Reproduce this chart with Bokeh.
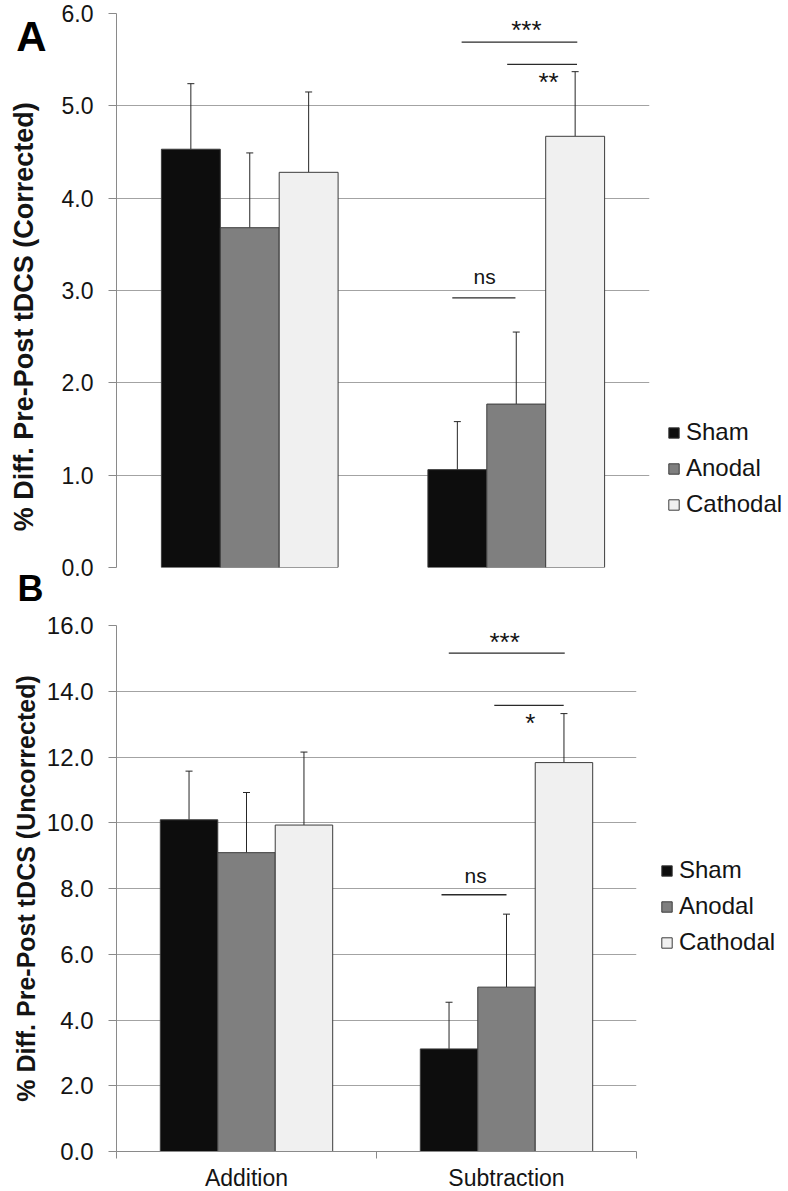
from bokeh.plotting import figure
from bokeh.models import (FixedTicker, Legend, LegendItem, Whisker, LinearAxis,
                          ColumnDataSource, TeeHead, Range1d, Title)
from bokeh.layouts import column
from bokeh.embed import file_html
from bokeh.resources import INLINE
from bokeh.core.properties import value

# ---------------- data ----------------
categories = ["Addition", "Subtraction"]
series = ["Sham", "Anodal", "Cathodal"]
colors = ["#0d0d0d", "#7f7f7f", "#f0f0f0"]

# Panel A (corrected)
a_sham = [4.53, 1.06]
a_anodal = [3.68, 1.77]
a_cathodal = [4.28, 4.67]
a_sham_err = [0.71, 0.52]
a_anodal_err = [0.81, 0.78]
a_cathodal_err = [0.87, 0.70]
a_ticks = [0, 1, 2, 3, 4, 5, 6]
a_tick_labels = ["0.0", "1.0", "2.0", "3.0", "4.0", "5.0", "6.0"]
a_sig_x0 = [1.295, 1.466, 1.26]
a_sig_x1 = [1.729, 1.728, 1.497]
a_sig_y = [5.69, 5.45, 2.92]
a_sig_text = ["***", "**", "ns"]
a_sig_tx = [1.538, 1.621, 1.381]
a_sig_ty = [5.87, 5.30, 3.14]

# Panel B (uncorrected)
b_sham = [10.09, 3.12]
b_anodal = [9.09, 5.00]
b_cathodal = [9.93, 11.83]
b_sham_err = [1.48, 1.42]
b_anodal_err = [1.83, 2.22]
b_cathodal_err = [2.22, 1.49]
b_ticks = [0, 2, 4, 6, 8, 10, 12, 14, 16]
b_tick_labels = ["0.0", "2.0", "4.0", "6.0", "8.0", "10.0", "12.0", "14.0", "16.0"]
b_sig_x0 = [1.278, 1.453, 1.25]
b_sig_x1 = [1.724, 1.72, 1.50]
b_sig_y = [15.16, 13.57, 7.81]
b_sig_text = ["***", "*", "ns"]
b_sig_tx = [1.493, 1.592, 1.381]
b_sig_ty = [15.62, 13.17, 8.37]

FONT = "Liberation Sans"
TXT = "#141414"
GRID = "#a3a3a3"
AXIS = "#8a8a8a"
BARW = 0.221
NBSP = "\u00a0"


def make_panel(vals, errs, ymax, ticks, tick_labels, sig,
               frame_w, frame_h, bl, br, bt, bb, tick_fs, legend_loc, show_x):
    p = figure(output_backend="svg", toolbar_location=None,
               frame_width=frame_w, frame_height=frame_h,
               min_border_left=bl, min_border_right=br,
               min_border_top=bt, min_border_bottom=bb,
               x_range=Range1d(0, 2), y_range=Range1d(0, ymax))
    p.outline_line_color = None
    p.background_fill_color = "white"
    p.border_fill_color = "white"
    p.xgrid.grid_line_color = None
    p.ygrid.grid_line_color = GRID
    p.ygrid.grid_line_width = 1
    p.ygrid.ticker = FixedTicker(ticks=ticks)

    yax = p.yaxis[0]
    yax.ticker = FixedTicker(ticks=ticks)
    yax.major_label_overrides = {t: l for t, l in zip(ticks, tick_labels)}
    yax.major_tick_in = 0
    yax.major_tick_out = 8
    yax.major_tick_line_color = AXIS
    yax.minor_tick_line_color = None
    yax.axis_line_color = AXIS
    yax.major_label_text_font = FONT
    yax.major_label_text_font_size = tick_fs
    yax.major_label_text_color = TXT
    yax.major_label_standoff = 15

    xax = p.xaxis[0]
    if show_x:
        xax.ticker = FixedTicker(ticks=[0.5, 1.5], minor_ticks=[0, 1, 2])
        xax.major_label_overrides = {0.5: categories[0], 1.5: categories[1]}
        xax.major_tick_in = 0
        xax.major_tick_out = 0
        xax.minor_tick_in = 0
        xax.minor_tick_out = 7
        xax.minor_tick_line_color = AXIS
        xax.axis_line_color = AXIS
        xax.major_label_text_font = FONT
        xax.major_label_text_font_size = "23px"
        xax.major_label_text_color = TXT
        xax.major_label_standoff = 6
    else:
        xax.visible = False

    items = []
    for i, (name, col) in enumerate(zip(series, colors)):
        xs = [g + 0.5 + (i - 1) * BARW for g in range(len(categories))]
        tops = vals[i]
        his = [t + e for t, e in zip(tops, errs[i])]
        src = ColumnDataSource(dict(x=xs, top=tops, hi=his))
        r = p.vbar(x="x", top="top", bottom=0, width=BARW, source=src,
                   fill_color=col, line_color="#3c3c3c", line_width=1)
        w = Whisker(source=src, base="x", lower="top", upper="hi",
                    dimension="height", line_color="#262626", line_width=1,
                    lower_head=None,
                    upper_head=TeeHead(size=7, line_color="#262626", line_width=1))
        p.add_layout(w)
        items.append(LegendItem(label=name, renderers=[r]))

    x0, x1, ys, texts, tx, ty = sig
    p.segment(x0=x0, x1=x1, y0=ys, y1=ys, line_color="#2a2a2a", line_width=1.3)
    stars = [k for k, t in enumerate(texts) if "*" in t]
    others = [k for k, t in enumerate(texts) if "*" not in t]
    p.text(x=[tx[k] for k in stars], y=[ty[k] for k in stars],
           text=[texts[k] for k in stars], text_font=value(FONT),
           text_font_size="26px", text_color=TXT, text_align="center",
           text_baseline="alphabetic", y_offset=4)
    p.text(x=[tx[k] for k in others], y=[ty[k] for k in others],
           text=[texts[k] for k in others], text_font=value(FONT),
           text_font_size="21px", text_color=TXT, text_align="center",
           text_baseline="alphabetic", y_offset=-1)

    leg = Legend(items=items, location=legend_loc, orientation="vertical",
                 glyph_width=13, glyph_height=13, label_standoff=6,
                 label_text_font=FONT, label_text_font_size="24px",
                 label_text_color=TXT, label_height=28, spacing=8,
                 padding=0, margin=0,
                 border_line_alpha=0, background_fill_alpha=0)
    p.add_layout(leg, "right")
    return p


# ---------- panel A ----------
pA = make_panel([a_sham, a_anodal, a_cathodal],
                [a_sham_err, a_anodal_err, a_cathodal_err],
                6, a_ticks, a_tick_labels,
                (a_sig_x0, a_sig_x1, a_sig_y, a_sig_text, a_sig_tx, a_sig_ty),
                533, 554, 116, 139, 13, 44, "23px", (18, 49), False)

# outer left axis: panel letter "A" and the axis title
outerA = LinearAxis(ticker=FixedTicker(ticks=[5.75]),
                    major_label_overrides={5.75: "A"})
outerA.axis_line_color = None
outerA.major_tick_line_color = None
outerA.minor_tick_line_color = None
outerA.major_tick_out = 0
outerA.major_tick_in = 0
outerA.major_label_standoff = 12
outerA.major_label_text_font = FONT
outerA.major_label_text_font_style = "bold"
outerA.major_label_text_font_size = "42px"
outerA.major_label_text_color = "#000000"
outerA.axis_label = "% Diff. Pre-Post tDCS (Corrected)" + NBSP * 7
outerA.axis_label_text_font = FONT
outerA.axis_label_text_font_style = "bold"
outerA.axis_label_text_font_size = "27px"
outerA.axis_label_text_color = TXT
outerA.axis_label_standoff = -26
pA.add_layout(outerA, "left")

# panel letter "B" sits in the gap below panel A
pA.add_layout(Title(text="B", align="left", offset=-99, standoff=1,
                    vertical_align="top", text_font=FONT,
                    text_font_style="bold", text_font_size="36px",
                    text_color="#000000"), "below")

# ---------- panel B ----------
pB = make_panel([b_sham, b_anodal, b_cathodal],
                [b_sham_err, b_anodal_err, b_cathodal_err],
                16, b_ticks, b_tick_labels,
                (b_sig_x0, b_sig_x1, b_sig_y, b_sig_text, b_sig_tx, b_sig_ty),
                520, 526, 115, 153, 14, 40, "24px", (24, 195), True)
yb = pB.yaxis[0]
yb.axis_label = "% Diff. Pre-Post tDCS (Uncorrected)"
yb.axis_label_text_font = FONT
yb.axis_label_text_font_style = "bold"
yb.axis_label_text_font_size = "25px"
yb.axis_label_text_color = TXT
yb.axis_label_standoff = 4

layout = column(pA, pB)
open("out.html", "w").write(file_html(layout, INLINE))
